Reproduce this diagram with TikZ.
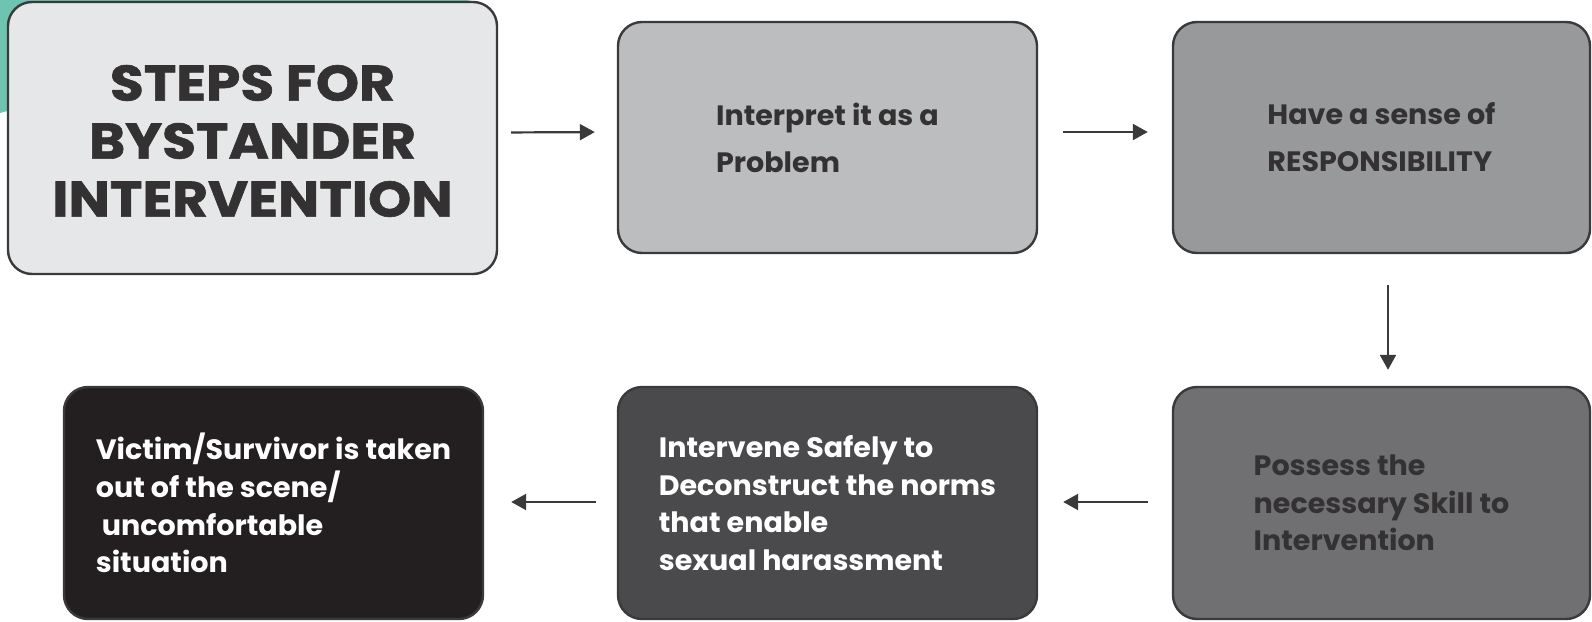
\documentclass[tikz,border=0pt]{standalone}
\usepackage{fontspec}
\setmainfont{Poppins}[FakeStretch=1.02]
\newfontfamily\titlefont{Poppins}[FakeStretch=1.1, BoldFeatures={FakeBold=1.2}]
\usetikzlibrary{arrows.meta}
\definecolor{tealc}{HTML}{6EC3B1}
\definecolor{edgec}{HTML}{3A393B}
\definecolor{txtc}{HTML}{333132}
\definecolor{fa}{HTML}{E6E7E8}
\definecolor{fb}{HTML}{BCBDBF}
\definecolor{fc}{HTML}{98999B}
\definecolor{fd}{HTML}{707073}
\definecolor{fe}{HTML}{4A4A4C}
\definecolor{ff}{HTML}{231F20}
\begin{document}
\begin{tikzpicture}[x=1pt,y=-1pt,
  box/.style={draw=edgec, line width=2.4pt, rounded corners=24pt, inner sep=0pt, align=left, font=\bfseries},
  toptxt/.style={font=\bfseries\fontsize{28}{47}\selectfont},
  bottxt/.style={font=\bfseries\fontsize{28}{37.7}\selectfont},
  arr/.style={draw=edgec, line width=2.2pt, -{Triangle[length=15pt,width=16pt]}}]
\useasboundingbox (0,0) rectangle (1592,621);
\fill[tealc] (0,0) -- (472,0) .. controls (320,28) and (120,80) .. (0,113) -- cycle;
\node[box, fill=fa, minimum width=489pt, minimum height=272pt] (b1) at (252.5,138) {};
\node[align=center, text=txtc, inner sep=0pt,
  font=\titlefont\bfseries\fontsize{50}{58}\selectfont] (t1) at (252.5,141) {STEPS FOR\\BYSTANDER\\INTERVENTION};
\node[box, fill=fb, minimum width=419pt, minimum height=231pt, text=txtc, toptxt] (b2) at (827.5,137.5) {Interpret it as a\\Problem};
\node[box, fill=fc, minimum width=417pt, minimum height=231pt, text=txtc, toptxt] (b3) at (1381.5,137.5) {Have a sense of\\RESPONSIBILITY};
\node[box, fill=fd, minimum width=417pt, minimum height=232pt, text=txtc, bottxt] (b4) at (1381.5,503) {Possess the\\necessary Skill to\\Intervention};
\node[box, fill=fe, minimum width=419pt, minimum height=232pt, text=white, bottxt] (b5) at (827.5,503) {Intervene Safely to\\Deconstruct the norms\\that enable\\sexual harassment};
\node[box, fill=ff, minimum width=419pt, minimum height=232pt, text=white, bottxt] (b6) at (273.5,503) {Victim/Survivor is taken\\out of the scene/\\\ uncomfortable\\situation};
\draw[arr, shorten <=13pt, shorten >=22pt] ([yshift=5.5pt]b1.east) -- ([yshift=5.5pt]b2.west);
\draw[arr, shorten <=25pt, shorten >=24pt] ([yshift=5.5pt]b2.east) -- ([yshift=5.5pt]b3.west);
\draw[arr, shorten <=31pt, shorten >=16pt] ([xshift=6.5pt]b3.south) -- ([xshift=6.5pt]b4.north);
\draw[arr, shorten <=24pt, shorten >=25pt] ([yshift=1pt]b4.west) -- ([yshift=1pt]b5.east);
\draw[arr, shorten <=21pt, shorten >=27pt] ([yshift=1pt]b5.west) -- ([yshift=1pt]b6.east);
\end{tikzpicture}
\end{document}
